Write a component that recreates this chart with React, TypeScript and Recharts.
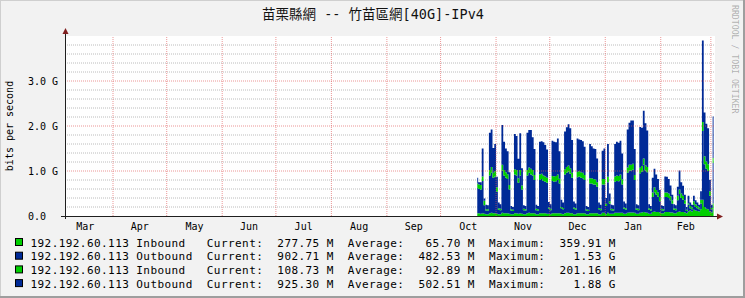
import { AreaChart, Area, XAxis, YAxis, CartesianGrid, ReferenceLine } from 'recharts';

const FONT = "'DejaVu Sans Mono', 'Noto Sans CJK TC', monospace";
const GREEN = '#00CF00';
const BLUE = '#002A97';

// days counted from Apr 1, one daily sample from Oct 21 on (Gbit/s)
const firstDay = 203;

const in1 = [
  0.06, 0.06, 0.05, 0.06, 0.05, 0.04, 0.04,
  0.06, 0.07, 0.06, 0.06, 0.05, 0.04, 0.04,
  0.07, 0.06, 0.06, 0.06, 0.05, 0.04, 0.04,
  0.06, 0.06, 0.05, 0.06, 0.05, 0.04, 0.04,
  0.06, 0.07, 0.06, 0.06, 0.06, 0.04, 0.04,
  0.06, 0.06, 0.06, 0.06, 0.05, 0.05, 0.04,
  0.06, 0.06, 0.06, 0.06, 0.06, 0.05, 0.04,
  0.06, 0.07, 0.07, 0.06, 0.06, 0.04, 0.04,
  0.06, 0.06, 0.06, 0.06, 0.06, 0.04, 0.04,
  0.06, 0.06, 0.06, 0.06, 0.06, 0.04, 0.04,
  0.07, 0.07, 0.04, 0.07, 0.05, 0.05, 0.05,
  0.07, 0.07, 0.07, 0.07, 0.07, 0.05, 0.05,
  0.07, 0.08, 0.08, 0.08, 0.07, 0.05, 0.05,
  0.07, 0.08, 0.09, 0.08, 0.07, 0.05, 0.05,
  0.09, 0.10, 0.09, 0.09, 0.08, 0.06, 0.06,
  0.09, 0.09, 0.09, 0.08, 0.08, 0.06, 0.06,
  0.09, 0.10, 0.09, 0.09, 0.08, 0.06, 0.10,
  0.12, 0.10, 0.14, 0.12, 0.11, 0.10, 0.15,
  0.36, 0.20, 0.16, 0.15, 0.10, 0.08, 0.28,
];

const out1 = [
  0.56, 0.54, 0.54, 0.72, 0.19, 0.08, 0.08,
  0.84, 0.89, 0.79, 0.82, 0.49, 0.10, 0.09,
  0.94, 0.84, 0.79, 0.76, 0.54, 0.08, 0.07,
  0.86, 0.84, 0.69, 0.84, 0.54, 0.09, 0.08,
  0.84, 0.89, 0.86, 0.84, 0.74, 0.09, 0.08,
  0.74, 0.76, 0.72, 0.70, 0.69, 0.11, 0.09,
  0.72, 0.70, 0.71, 0.74, 0.66, 0.12, 0.11,
  0.86, 0.89, 0.92, 0.88, 0.79, 0.12, 0.10,
  0.80, 0.82, 0.79, 0.78, 0.74, 0.08, 0.07,
  0.66, 0.66, 0.64, 0.64, 0.59, 0.11, 0.09,
  0.63, 0.63, 0.18, 0.68, 0.23, 0.08, 0.07,
  0.69, 0.71, 0.70, 0.73, 0.63, 0.11, 0.09,
  0.89, 0.93, 0.93, 0.95, 0.73, 0.09, 0.08,
  0.88, 0.91, 1.05, 0.93, 0.90, 0.09, 0.07,
  0.33, 0.43, 0.39, 0.34, 0.25, 0.07, 0.06,
  0.33, 0.33, 0.31, 0.27, 0.19, 0.08, 0.07,
  0.26, 0.39, 0.31, 0.27, 0.19, 0.05, 0.15,
  0.05, 0.05, 0.11, 0.08, 0.06, 0.05, 0.13,
  1.53, 0.95, 0.89, 0.85, 0.35, 0.07, 0.90,
];

const in2 = [
  0.10, 0.10, 0.10, 0.10, 0.10, 0.03, 0.03,
  0.12, 0.13, 0.11, 0.12, 0.10, 0.03, 0.03,
  0.13, 0.12, 0.12, 0.11, 0.10, 0.03, 0.03,
  0.12, 0.12, 0.10, 0.12, 0.09, 0.03, 0.03,
  0.12, 0.12, 0.13, 0.12, 0.11, 0.03, 0.03,
  0.12, 0.12, 0.12, 0.12, 0.11, 0.03, 0.03,
  0.11, 0.12, 0.12, 0.12, 0.11, 0.03, 0.03,
  0.12, 0.13, 0.13, 0.12, 0.11, 0.03, 0.03,
  0.12, 0.12, 0.12, 0.12, 0.11, 0.03, 0.03,
  0.12, 0.12, 0.12, 0.11, 0.10, 0.03, 0.03,
  0.12, 0.12, 0.05, 0.12, 0.05, 0.03, 0.03,
  0.12, 0.12, 0.12, 0.12, 0.11, 0.03, 0.03,
  0.12, 0.13, 0.13, 0.13, 0.11, 0.03, 0.03,
  0.12, 0.12, 0.14, 0.12, 0.12, 0.03, 0.03,
  0.10, 0.11, 0.10, 0.10, 0.09, 0.03, 0.03,
  0.10, 0.10, 0.10, 0.09, 0.08, 0.03, 0.03,
  0.10, 0.10, 0.10, 0.09, 0.08, 0.03, 0.03,
  0.05, 0.04, 0.08, 0.06, 0.05, 0.04, 0.08,
  0.20, 0.18, 0.16, 0.15, 0.10, 0.03, 0.11,
];

const out2 = [
  0.13, 0.05, 0.06, 0.62, 0.05, 0.10, 0.09,
  0.83, 0.83, 0.55, 0.60, 0.23, 0.13, 0.10,
  0.88, 0.63, 0.53, 0.51, 0.28, 0.07, 0.06,
  0.78, 0.76, 0.43, 0.82, 0.38, 0.08, 0.07,
  0.83, 0.83, 0.86, 0.73, 0.58, 0.09, 0.07,
  0.73, 0.72, 0.74, 0.70, 0.63, 0.12, 0.10,
  0.78, 0.77, 0.75, 0.80, 0.61, 0.16, 0.12,
  0.84, 0.88, 0.92, 0.89, 0.73, 0.13, 0.11,
  0.74, 0.70, 0.72, 0.70, 0.63, 0.07, 0.06,
  0.76, 0.71, 0.68, 0.68, 0.53, 0.12, 0.09,
  0.63, 0.68, 0.13, 0.73, 0.17, 0.09, 0.09,
  0.72, 0.75, 0.74, 0.75, 0.58, 0.13, 0.11,
  0.84, 0.93, 0.98, 0.96, 0.58, 0.09, 0.08,
  0.91, 0.85, 1.06, 0.93, 0.81, 0.09, 0.07,
  0.33, 0.41, 0.34, 0.29, 0.16, 0.08, 0.07,
  0.36, 0.35, 0.32, 0.24, 0.12, 0.09, 0.08,
  0.20, 0.42, 0.25, 0.22, 0.12, 0.06, 0.17,
  0.08, 0.06, 0.12, 0.09, 0.08, 0.06, 0.19,
  1.81, 0.97, 0.84, 0.80, 0.25, 0.07, 0.92,
];

const monthLabels = ['Mar', 'Apr', 'May', 'Jun', 'Jul', 'Aug', 'Sep', 'Oct', 'Nov', 'Dec', 'Jan', 'Feb'];
const monthMidDays = [-15.5, 15, 45.5, 76, 106.5, 137.5, 168, 198.5, 229, 259.5, 290.5, 320];
const monthStartDays = [0, 30, 61, 91, 122, 153, 183, 214, 244, 275, 306, 334];

const yTicks = [0, 1, 2, 3];
const minorY = [0.2, 0.4, 0.6, 0.8, 1.2, 1.4, 1.6, 1.8, 2.2, 2.4, 2.6, 2.8, 3.2, 3.4, 3.6, 3.8];

const legendNames = [
  '192.192.60.113 Inbound',
  '192.192.60.113 Outbound',
  '192.192.60.113 Inbound',
  '192.192.60.113 Outbound',
];
const legendColors = [GREEN, BLUE, GREEN, BLUE];
const currentVals = ['277.75 M', '902.71 M', '108.73 M', '925.30 M'];
const averageVals = ['65.70 M', '482.53 M', '92.89 M', '502.51 M'];
const maximumVals = ['359.91 M', '1.53 G', '201.16 M', '1.88 G'];

const data = in1.map((v, i) => ({
  day: firstDay + i + 0.5,
  in1: v,
  out1: out1[i],
  in2: in2[i],
  out2: out2[i],
}));

function YTick(props: any) {
  const { y, payload } = props;
  const label = payload.value === 0 ? '0.0' : `${payload.value.toFixed(1)} G`;
  return (
    <text x={28} y={y + 3.5} fontFamily={FONT} fontSize={10} fill="#000">
      {label}
    </text>
  );
}

function XTick(props: any) {
  const { x, payload } = props;
  const idx = monthMidDays.indexOf(payload.value);
  return (
    <text x={x} y={229.5} textAnchor="middle" fontFamily={FONT} fontSize={10} fill="#000">
      {monthLabels[idx]}
    </text>
  );
}

export default function App() {
  const legendLines = legendNames.map(
    (n, i) =>
      n.padEnd(23) +
      '  Current:  ' + currentVals[i].padStart(8) +
      '  Average:  ' + averageVals[i].padStart(8) +
      '  Maximum:  ' + maximumVals[i].padStart(8),
  );

  return (
    <div style={{ position: 'absolute', left: 0, top: 0, width: 745, height: 298, background: '#F2F2F2' }}>
      <AreaChart
        width={745}
        height={298}
        data={data}
        margin={{ top: 36, right: 30, bottom: 0, left: 0 }}
      >
        <CartesianGrid
          horizontalValues={minorY}
          vertical={false}
          stroke="#8F8F8F"
          strokeOpacity={0.6}
          strokeDasharray="1 1"
          fill="#FFFFFF"
          fillOpacity={1}
        />
        <XAxis
          dataKey="day"
          type="number"
          domain={[-26.82, 336.31]}
          allowDataOverflow
          ticks={monthMidDays}
          interval={0}
          tick={<XTick />}
          tickLine={false}
          axisLine={false}
          height={82}
        />
        <YAxis
          type="number"
          domain={[0, 4]}
          allowDataOverflow
          ticks={yTicks}
          interval={0}
          tick={<YTick />}
          tickLine={false}
          axisLine={false}
          width={65}
        />
        <Area type="step" dataKey="in1" stackId="s" stroke="none" fill={GREEN} fillOpacity={1} isAnimationActive={false} dot={false} activeDot={false} />
        <Area type="step" dataKey="out1" stackId="s" stroke="none" fill={BLUE} fillOpacity={1} isAnimationActive={false} dot={false} activeDot={false} />
        <Area type="step" dataKey="in2" stackId="s" stroke="none" fill={GREEN} fillOpacity={1} isAnimationActive={false} dot={false} activeDot={false} />
        <Area type="step" dataKey="out2" stackId="s" stroke="none" fill={BLUE} fillOpacity={1} isAnimationActive={false} dot={false} activeDot={false} />
        {monthStartDays.map((d) => (
          <ReferenceLine key={'v' + d} x={d} stroke="#DE5050" strokeOpacity={0.6} strokeDasharray="1 1" />
        ))}
        {[1, 2, 3].map((v) => (
          <ReferenceLine key={'h' + v} y={v} stroke="#DE5050" strokeOpacity={0.6} strokeDasharray="1 1" />
        ))}
      </AreaChart>

      <svg width={745} height={298} style={{ position: 'absolute', left: 0, top: 0, pointerEvents: 'none' }}>
        {/* frame */}
        <line x1={0} y1={0.5} x2={745} y2={0.5} stroke="#CFCFCF" />
        <line x1={0.5} y1={0} x2={0.5} y2={298} stroke="#CFCFCF" />
        <line x1={0} y1={297} x2={745} y2={297} stroke="#9E9E9E" strokeWidth={2} />
        <line x1={744} y1={0} x2={744} y2={298} stroke="#9E9E9E" strokeWidth={2} />

        <text x={373} y={19} textAnchor="middle" fontFamily={FONT} fontSize={13.5} fill="#111">
          苗栗縣網 -- 竹苗區網[40G]-IPv4
        </text>
        <text
          x={732}
          y={5}
          transform="rotate(90 732 5)"
          fontFamily={FONT}
          fontSize={8.2}
          fill="#000"
          fillOpacity={0.3}
        >
          RRDTOOL / TOBI OETIKER
        </text>
        <text
          x={13}
          y={126}
          transform="rotate(-90 13 126)"
          textAnchor="middle"
          fontFamily={FONT}
          fontSize={10}
          fill="#000"
        >
          bits per second
        </text>

        {/* axes with arrows */}
        <line x1={61} y1={216.5} x2={718} y2={216.5} stroke="#1F1F1F" />
        <polygon points="717,213.5 717,219.5 723,216.5" fill="#801F1F" />
        <line x1={65.5} y1={219} x2={65.5} y2={34} stroke="#1F1F1F" />
        <polygon points="62.5,34 68.5,34 65.5,28" fill="#801F1F" />

        {legendLines.map((line, i) => (
          <g key={i}>
            <rect x={15.5} y={238.5 + i * 13.7} width={7} height={7} fill={legendColors[i]} stroke="#000" />
            <text
              x={30.5}
              y={246.6 + i * 13.7}
              fontFamily={FONT}
              fontSize={11}
              letterSpacing={0.43}
              fill="#000"
              style={{ whiteSpace: 'pre' }}
            >
              {line}
            </text>
          </g>
        ))}
      </svg>
    </div>
  );
}
